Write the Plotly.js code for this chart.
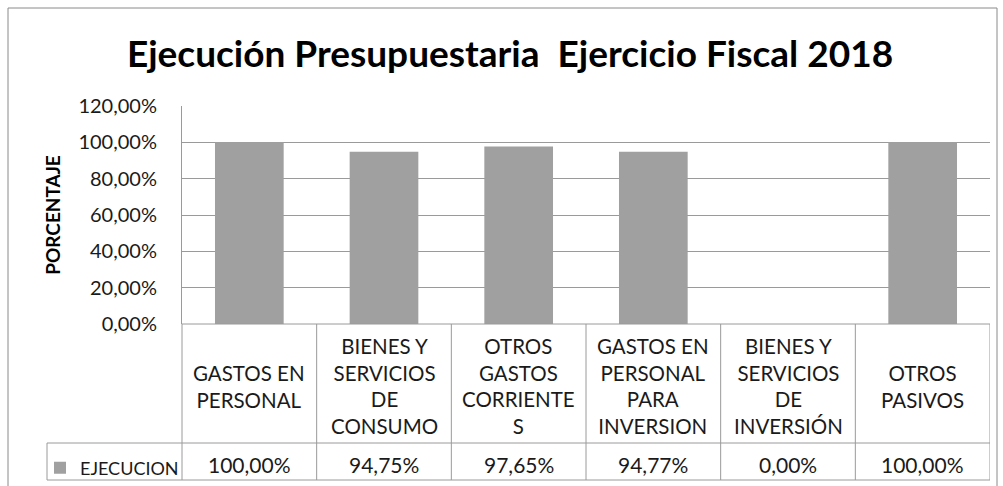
<!DOCTYPE html>
<html>
<head>
<meta charset="utf-8">
<script src="https://cdn.plot.ly/plotly-3.0.1.min.js"></script>
<style>html,body{margin:0;padding:0;background:#fff;}#chart{width:1003px;height:486px;}</style>
</head>
<body>
<div id="chart"></div>
<script>
// ---- data ----
var chartTitle = "Ejecución Presupuestaria  Ejercicio Fiscal 2018";
var yAxisTitle = "PORCENTAJE";
var seriesName = "EJECUCION";
var categories = ["GASTOS EN PERSONAL", "BIENES Y SERVICIOS DE CONSUMO", "OTROS GASTOS CORRIENTES",
                  "GASTOS EN PERSONAL PARA INVERSION", "BIENES Y SERVICIOS DE INVERSIÓN", "OTROS PASIVOS"];
var categoryLabels = ["GASTOS EN<br>PERSONAL", "BIENES Y<br>SERVICIOS<br>DE<br>CONSUMO", "OTROS<br>GASTOS<br>CORRIENTE<br>S",
                      "GASTOS EN<br>PERSONAL<br>PARA<br>INVERSION", "BIENES Y<br>SERVICIOS<br>DE<br>INVERSIÓN", "OTROS<br>PASIVOS"];
var values = [1.0000, 0.9475, 0.9765, 0.9477, 0.0000, 1.0000];
var yTicks = [0, 0.2, 0.4, 0.6, 0.8, 1.0, 1.2];

// ---- geometry helpers (pixel -> paper) ----
var W = 1003, H = 486;
var L = 182, R = 13, T = 106, B = 162;
var PW = W - L - R, PH = H - T - B;
function px(x) { return (x - L) / PW; }
function py(y) { return (T + PH - y) / PH; }

var FONT = "Lato, 'Open Sans', sans-serif";
var TXT = "#1a1a1a";
var LINE = "#9a9a9a";

function fmt(v) { return (v * 100).toFixed(2).replace(".", ",") + "%"; }

var trace = {
  type: "bar",
  name: seriesName,
  x: categories,
  y: values,
  width: 0.51,
  marker: { color: "#a0a0a0", line: { width: 0 } },
  hoverinfo: "x+y"
};

var shapes = [];
var rowTop = py(324), rowMid = py(443), rowBot = py(480);
// outer chart border
shapes.push({ type: "rect", xref: "paper", yref: "paper", x0: px(8), x1: px(997), y0: py(8), y1: py(492),
  line: { color: "#8a8a8a", width: 1 }, fillcolor: "rgba(0,0,0,0)", layer: "below" });
// table horizontal lines
shapes.push({ type: "line", xref: "paper", yref: "paper", x0: 0, x1: 1, y0: rowTop, y1: rowTop, line: { color: LINE, width: 1 } });
shapes.push({ type: "line", xref: "paper", yref: "paper", x0: px(47), x1: 1, y0: rowMid, y1: rowMid, line: { color: LINE, width: 1 } });
shapes.push({ type: "line", xref: "paper", yref: "paper", x0: px(47), x1: 1, y0: rowBot, y1: rowBot, line: { color: LINE, width: 1 } });
// table vertical lines
shapes.push({ type: "line", xref: "paper", yref: "paper", x0: px(47), x1: px(47), y0: rowMid, y1: rowBot, line: { color: LINE, width: 1 } });
shapes.push({ type: "line", xref: "paper", yref: "paper", x0: 0, x1: 0, y0: rowTop, y1: rowBot, line: { color: LINE, width: 1 } });
for (var i = 0; i < categories.length; i++) {
  shapes.push({ type: "line", xref: "x", yref: "paper", x0: i + 0.5, x1: i + 0.5, y0: rowTop, y1: rowBot, line: { color: LINE, width: 1 } });
}

var annotations = [];
for (var j = 0; j < categories.length; j++) {
  annotations.push({ xref: "x", yref: "paper", x: categories[j], y: py(386),
    text: categoryLabels[j], showarrow: false, xanchor: "center", yanchor: "middle", align: "center",
    font: { family: FONT, size: 20.5, color: TXT } });
  annotations.push({ xref: "x", yref: "paper", x: categories[j], y: py(464),
    text: fmt(values[j]), showarrow: false, xanchor: "center", yanchor: "middle",
    font: { family: FONT, size: 21, color: TXT } });
}

var layout = {
  width: W, height: H,
  margin: { l: L, r: R, t: T, b: B, pad: 0, autoexpand: false },
  paper_bgcolor: "#ffffff",
  plot_bgcolor: "#ffffff",
  separators: ",.",
  title: { text: "<b>" + chartTitle + "</b>", x: 510 / W, xanchor: "center", xref: "container",
           y: 1 - 54 / H, yanchor: "middle", yref: "container",
           font: { family: FONT, size: 37, color: "#000" } },
  xaxis: { type: "category", range: [-0.5, 5.5], showticklabels: false, showgrid: false,
           zeroline: false, showline: false, ticks: "", fixedrange: true },
  yaxis: { range: [0, 1.2], tickvals: yTicks, tickformat: ".2%", showgrid: true, gridcolor: LINE, gridwidth: 1,
           zeroline: false, showline: true, linecolor: LINE, linewidth: 1, ticks: "", ticklabelstandoff: 20,
           tickfont: { family: FONT, size: 20, color: TXT }, automargin: false,
           title: { text: "<b>" + yAxisTitle + "</b>", standoff: 12, font: { family: FONT, size: 19, color: "#000" } } },
  showlegend: true,
  legend: { x: px(40), xanchor: "left", y: py(468), yanchor: "middle",
            bgcolor: "rgba(0,0,0,0)", borderwidth: 0, font: { family: FONT, size: 18, color: TXT } },
  bargap: 0.49,
  shapes: shapes,
  annotations: annotations
};

Plotly.newPlot("chart", [trace], layout, { displayModeBar: false, staticPlot: true });
</script>
</body>
</html>
